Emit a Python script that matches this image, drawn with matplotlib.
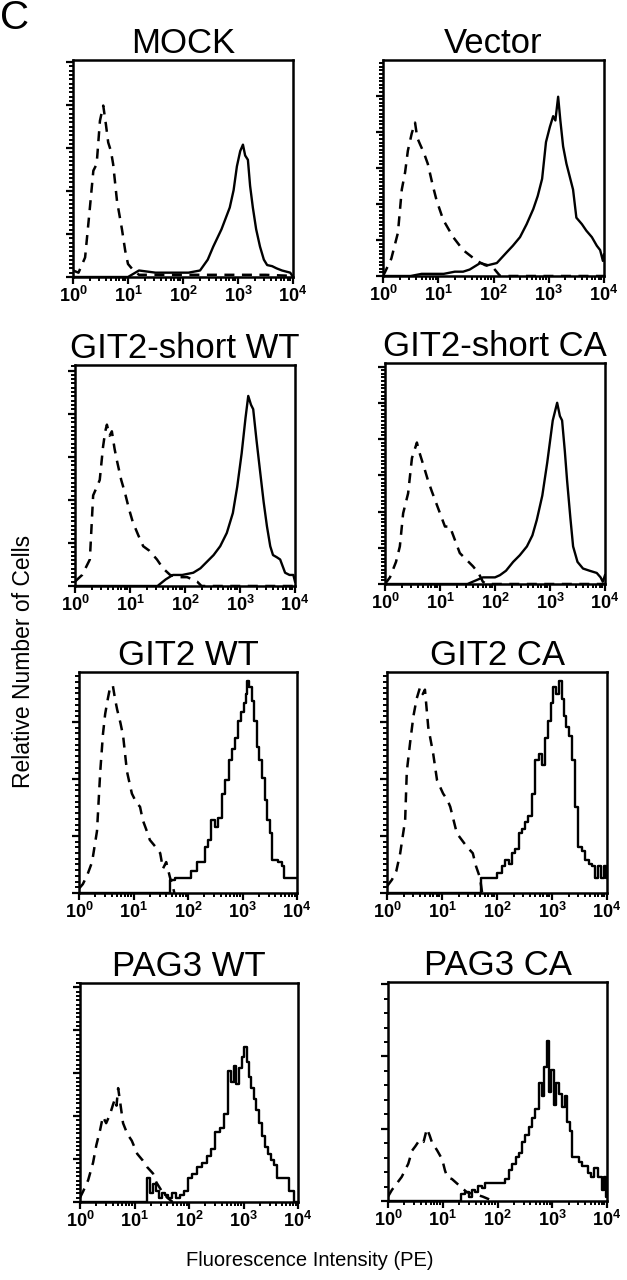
import numpy as np
import matplotlib
matplotlib.use("Agg")
import matplotlib.pyplot as plt
from matplotlib.ticker import FixedLocator, NullFormatter

plt.rcParams['font.family'] = ['Liberation Sans', 'DejaVu Sans']
plt.rcParams['mathtext.fontset'] = 'custom'
plt.rcParams['mathtext.rm'] = 'Liberation Sans'
plt.rcParams['mathtext.bf'] = 'Liberation Sans:bold'

# ---------------- data (x = log10 fluorescence, y = % of axis height) -------------
titles = ["MOCK", "Vector", "GIT2-short WT", "GIT2-short CA",
          "GIT2 WT", "GIT2 CA", "PAG3 WT", "PAG3 CA"]
x_ticklabels = ["10$^{0}$", "10$^{1}$", "10$^{2}$", "10$^{3}$", "10$^{4}$"]

mock_ctrl_x = [0.0, 0.1, 0.22, 0.3, 0.37, 0.43, 0.49, 0.55, 0.6, 0.64, 0.69, 0.73, 0.8, 0.89, 0.95, 1.0, 1.1, 1.2, 1.5, 2.0, 2.5, 3.0, 3.5, 4.0]
mock_ctrl_y = [3, 2, 9, 30, 49, 52, 72, 79, 70, 62, 58, 52, 35, 22, 12, 6, 3, 1, 1, 1, 1, 1, 1, 0.5]
mock_expr_x = [0.0, 1.0, 1.2, 1.5, 1.8, 2.1, 2.31, 2.45, 2.55, 2.7, 2.85, 2.92, 2.98, 3.04, 3.09, 3.13, 3.18, 3.22, 3.27, 3.33, 3.4, 3.47, 3.53, 3.62, 3.7, 3.8, 3.95, 4.0]
mock_expr_y = [0, 0, 3, 2, 2, 2, 3, 8, 14, 22, 32, 40, 51, 58, 61, 56, 54, 42, 32, 22, 14, 8, 5.5, 5, 4, 3, 2, 0]

vec_ctrl_x = [0.0, 0.04, 0.15, 0.27, 0.34, 0.4, 0.45, 0.52, 0.58, 0.62, 0.67, 0.74, 0.81, 0.9, 0.97, 1.09, 1.18, 1.27, 1.45, 1.6, 1.7, 1.85, 1.99, 2.12, 2.5, 4.0]
vec_ctrl_y = [0, 2, 8, 20, 40, 48, 58, 66, 71, 64, 61, 57, 52, 42, 35, 26, 22, 18, 12, 9, 7, 5, 4, 0, 0, 0]
vec_expr_x = [0.0, 0.5, 0.7, 0.9, 1.1, 1.3, 1.45, 1.57, 1.76, 1.9, 2.06, 2.24, 2.35, 2.48, 2.6, 2.72, 2.8, 2.88, 2.95, 3.02, 3.08, 3.12, 3.17, 3.21, 3.26, 3.32, 3.38, 3.44, 3.5, 3.6, 3.68, 3.78, 3.87, 3.93, 3.98, 4.0]
vec_expr_y = [0, 0, 1, 1, 1, 2, 2, 3, 6, 5, 6, 11, 14, 18, 24, 31, 37, 45, 62, 69, 74, 72, 83, 72, 60, 52, 46, 40, 27, 24, 21, 18, 14, 12, 7, 10]

gsw_ctrl_x = [0.0, 0.13, 0.27, 0.33, 0.4, 0.45, 0.51, 0.55, 0.58, 0.63, 0.67, 0.72, 0.76, 0.84, 0.91, 0.98, 1.05, 1.15, 1.24, 1.35, 1.49, 1.6, 1.73, 1.9, 2.04, 2.22, 2.3, 4.0]
gsw_ctrl_y = [2, 5, 12, 41, 45, 48, 63, 70, 73, 68, 70, 62, 57, 48, 42, 35, 29, 23, 18, 16, 12, 8, 5, 4, 4, 2, 0, 0]
gsw_expr_x = [0.0, 1.5, 1.65, 1.78, 1.95, 2.15, 2.28, 2.4, 2.52, 2.64, 2.76, 2.87, 2.95, 3.03, 3.1, 3.15, 3.2, 3.24, 3.3, 3.36, 3.43, 3.49, 3.55, 3.6, 3.67, 3.73, 3.82, 3.9, 3.97, 4.0]
gsw_expr_y = [0, 0, 3, 5, 5, 6, 8, 11, 14, 18, 24, 33, 45, 60, 76, 86, 82, 80, 66, 53, 38, 27, 18, 14, 13, 12, 6, 5, 5, 2]

gsc_ctrl_x = [0.0, 0.09, 0.2, 0.27, 0.33, 0.42, 0.49, 0.58, 0.62, 0.67, 0.72, 0.78, 0.85, 0.91, 1.0, 1.09, 1.18, 1.27, 1.36, 1.48, 1.6, 1.7, 1.78, 1.85, 4.0]
gsc_ctrl_y = [0, 3, 10, 17, 32, 41, 57, 64, 60, 56, 52, 47, 42, 38, 32, 26, 26, 20, 14, 11, 8, 5, 1, 0, 0]
gsc_expr_x = [0.0, 1.5, 1.78, 2.0, 2.09, 2.2, 2.33, 2.45, 2.58, 2.68, 2.76, 2.86, 2.95, 3.05, 3.13, 3.18, 3.22, 3.27, 3.31, 3.37, 3.42, 3.5, 3.6, 3.72, 3.85, 3.92, 3.96, 4.0]
gsc_expr_y = [0, 0, 3, 3, 4, 6, 10, 13, 17, 22, 29, 40, 55, 74, 82, 76, 74, 60, 47, 30, 17, 10, 7, 6, 5, 3, 1, 4]

gw_ctrl_x = [0.0, 0.07, 0.15, 0.24, 0.33, 0.39, 0.44, 0.48, 0.53, 0.57, 0.62, 0.66, 0.7, 0.76, 0.81, 0.88, 0.97, 1.05, 1.12, 1.17, 1.23, 1.3, 1.4, 1.49, 1.54, 1.6, 1.67, 1.72, 1.75]
gw_ctrl_y = [2, 4, 8, 14, 28, 55, 72, 81, 88, 93, 94, 88, 83, 77, 71, 55, 45, 41, 39, 33, 29, 24, 21, 18, 11, 14, 7, 3, 0]
gw_expr_x = [0.0, 1.65, 1.7, 1.8, 1.9, 2.0, 2.1, 2.22, 2.3, 2.34, 2.4, 2.46, 2.52, 2.58, 2.65, 2.72, 2.78, 2.83, 2.89, 2.95, 3.0, 3.04, 3.07, 3.1, 3.14, 3.19, 3.24, 3.28, 3.33, 3.38, 3.43, 3.47, 3.52, 3.56, 3.62, 3.69, 3.74, 3.78, 3.85, 3.92, 4.0]
gw_expr_y = [0, 0, 6, 7, 7, 7, 10, 14, 14, 21, 24, 33, 30, 34, 45, 51, 60, 65, 70, 78, 82, 86, 90, 96, 93, 87, 78, 66, 60, 52, 42, 33, 27, 15, 15, 14, 12, 7, 7, 7, 7]

gc_ctrl_x = [0.0, 0.09, 0.17, 0.24, 0.33, 0.36, 0.42, 0.48, 0.54, 0.6, 0.65, 0.69, 0.75, 0.84, 0.91, 1.02, 1.1, 1.15, 1.21, 1.27, 1.36, 1.45, 1.56, 1.62, 1.69, 1.73]
gc_ctrl_y = [3, 6, 10, 18, 33, 55, 68, 80, 88, 93, 90, 92, 75, 63, 51, 45, 42, 39, 33, 27, 24, 21, 18, 12, 7, 0]
gc_expr_x = [0.0, 1.65, 1.75, 1.85, 1.95, 2.05, 2.12, 2.18, 2.24, 2.3, 2.36, 2.42, 2.48, 2.54, 2.6, 2.66, 2.73, 2.79, 2.84, 2.9, 2.96, 3.0, 3.05, 3.1, 3.15, 3.2, 3.24, 3.28, 3.33, 3.39, 3.45, 3.51, 3.57, 3.64, 3.7, 3.75, 3.8, 3.87, 3.92, 3.96, 4.0]
gc_expr_y = [0, 0, 7, 7, 7, 9, 12, 15, 13, 18, 20, 27, 29, 32, 35, 45, 60, 63, 58, 70, 78, 86, 93, 90, 96, 88, 80, 75, 71, 60, 39, 21, 19, 15, 13, 12, 7, 12, 7, 12, 7]

pw_ctrl_x = [0.0, 0.06, 0.15, 0.24, 0.3, 0.37, 0.42, 0.48, 0.55, 0.6, 0.64, 0.67, 0.7, 0.74, 0.79, 0.87, 0.95, 1.05, 1.15, 1.23, 1.34, 1.4, 1.5, 1.6, 1.7]
pw_ctrl_y = [2, 5, 10, 18, 26, 33, 39, 36, 40, 44, 47, 44, 52, 45, 36, 31, 28, 22, 19, 16, 13, 9, 5, 2, 0]
pw_expr_x = [0.0, 1.2, 1.25, 1.3, 1.36, 1.41, 1.47, 1.53, 1.59, 1.65, 1.72, 1.8, 1.87, 1.93, 2.02, 2.1, 2.2, 2.28, 2.38, 2.44, 2.52, 2.62, 2.68, 2.75, 2.8, 2.84, 2.89, 2.94, 2.99, 3.03, 3.08, 3.12, 3.17, 3.21, 3.26, 3.3, 3.36, 3.43, 3.48, 3.54, 3.59, 3.63, 3.7, 3.8, 3.85, 3.9, 3.94, 4.0]
pw_expr_y = [0, 0, 11, 4, 8, 5, 2, 4, 3, 2, 4, 2, 3, 5, 11, 13, 16, 18, 21, 24, 32, 34, 40, 60, 55, 62, 54, 61, 66, 71, 64, 57, 52, 47, 42, 36, 30, 25, 22, 19, 17, 11, 11, 11, 5, 5, 0, 0]

pc_ctrl_x = [0.0, 0.07, 0.16, 0.25, 0.31, 0.37, 0.44, 0.5, 0.58, 0.65, 0.71, 0.76, 0.8, 0.9, 0.99, 1.04, 1.08, 1.17, 1.26, 1.35, 1.44, 1.6, 1.73, 1.92]
pc_ctrl_y = [2, 5, 8, 11, 14, 17, 23, 25, 28, 27, 33, 30, 27, 23, 19, 14, 11, 10, 8, 6, 4, 3, 2, 0]
pc_expr_x = [0.0, 1.3, 1.38, 1.44, 1.5, 1.56, 1.62, 1.68, 1.74, 1.8, 1.9, 2.0, 2.1, 2.17, 2.23, 2.3, 2.36, 2.41, 2.47, 2.53, 2.6, 2.66, 2.72, 2.78, 2.83, 2.87, 2.92, 2.96, 3.01, 3.05, 3.1, 3.15, 3.2, 3.25, 3.29, 3.34, 3.38, 3.45, 3.51, 3.56, 3.62, 3.68, 3.74, 3.8, 3.87, 3.93, 3.97, 4.0]
pc_expr_y = [0, 0, 3, 4, 2, 5, 4, 7, 6, 8, 8, 8, 8, 10, 14, 17, 20, 22, 27, 30, 34, 38, 42, 54, 48, 61, 73, 50, 60, 44, 54, 49, 43, 48, 36, 32, 20, 20, 18, 16, 16, 13, 11, 15, 11, 5, 11, 2]

ctrl_series = [(mock_ctrl_x, mock_ctrl_y), (vec_ctrl_x, vec_ctrl_y), (gsw_ctrl_x, gsw_ctrl_y),
               (gsc_ctrl_x, gsc_ctrl_y), (gw_ctrl_x, gw_ctrl_y), (gc_ctrl_x, gc_ctrl_y),
               (pw_ctrl_x, pw_ctrl_y), (pc_ctrl_x, pc_ctrl_y)]
expr_series = [(mock_expr_x, mock_expr_y), (vec_expr_x, vec_expr_y), (gsw_expr_x, gsw_expr_y),
               (gsc_expr_x, gsc_expr_y), (gw_expr_x, gw_expr_y), (gc_expr_x, gc_expr_y),
               (pw_expr_x, pw_expr_y), (pc_expr_x, pc_expr_y)]

# ---------------- layout / style -------------------------------------------
W, H = 627, 1280
# panel boxes in pixels: left, top, right, bottom
boxes = [(73, 60, 293, 277), (383, 60, 604, 276),
         (75, 365, 295, 586), (385, 363, 605, 584),
         (79, 672, 297, 893), (387, 672, 607, 893),
         (80, 983, 298, 1202), (388, 982, 607, 1201)]
y_major = [19.8, 16.7, 19.5, 16.4, 25.8, 25.8, 19.6, 33.0]
y_minor_div = [10, 10, 10, 10, 10, 10, 10, 5]
step_style = [False, False, False, False, True, True, True, True]

fig = plt.figure(figsize=(W / 100, H / 100), dpi=100)

for i, (l, t, r, b) in enumerate(boxes):
    ax = fig.add_axes([l / W, 1 - b / H, (r - l) / W, (b - t) / H])
    ax.set_xscale('log')
    ax.set_xlim(1, 1e4)
    ax.set_ylim(0, 100)
    cx, cy = ctrl_series[i]
    ex, ey = expr_series[i]
    ax.plot(10 ** np.asarray(cx), cy, color='black', lw=1.8,
            dashes=(4.0, 3.0), dash_capstyle='butt')
    ds = 'steps-mid' if step_style[i] else 'default'
    ax.plot(10 ** np.asarray(ex), ey, color='black', lw=1.7, drawstyle=ds)

    for s in ax.spines.values():
        s.set_linewidth(1.8)
    ax.set_title(titles[i], fontsize=25, pad=5)

    # x ticks
    ax.xaxis.set_major_locator(FixedLocator([1, 10, 100, 1000, 10000]))
    ax.xaxis.set_minor_locator(FixedLocator([m * 10 ** d for d in range(4) for m in range(2, 10)]))
    ax.set_xticklabels([r'$\mathbf{%s}$' % lab.replace('$', '') for lab in x_ticklabels])
    ax.xaxis.set_minor_formatter(NullFormatter())
    # y ticks
    maj = np.arange(0, 100.01, y_major[i])
    mnr = np.arange(0, 100.01, y_major[i] / y_minor_div[i])
    ax.yaxis.set_major_locator(FixedLocator(maj))
    ax.yaxis.set_minor_locator(FixedLocator(mnr))
    ax.yaxis.set_major_formatter(NullFormatter())
    ax.yaxis.set_minor_formatter(NullFormatter())
    ax.tick_params(axis='both', which='major', direction='out', length=5, width=1.6,
                   labelsize=13, pad=1.5)
    ax.tick_params(axis='both', which='minor', direction='out', length=3, width=1.4)
    ax.tick_params(top=False, right=False)

fig.text(0 / W, 1 - 18 / H, "C", fontsize=29, ha='left', va='center')
fig.text(24 / W, 1 - 661 / H, "Relative Number of Cells", rotation=90,
         fontsize=16.5, ha='center', va='center')
fig.text(310 / W, 1 - 1261 / H, "Fluorescence Intensity (PE)",
         fontsize=14.5, ha='center', va='center')

fig.savefig("out.png", dpi=100)
